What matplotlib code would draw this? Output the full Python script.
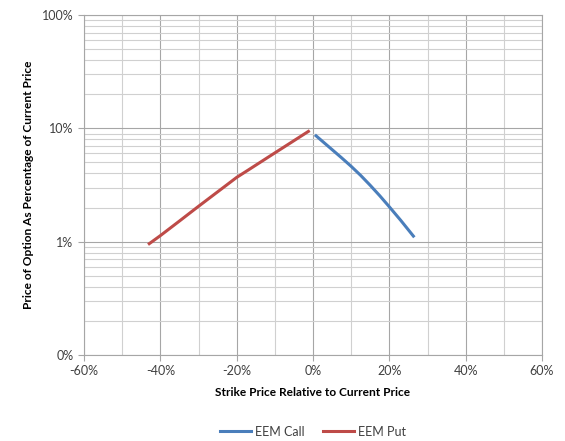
import matplotlib
matplotlib.use("Agg")
import matplotlib.pyplot as plt
from matplotlib.ticker import FixedLocator, FuncFormatter, LogLocator, NullFormatter

# ── Datos ─────────────────────────────────────────────────────────────────────
call_strike = [0.8, 5, 7.5, 10, 12.5, 15, 17.5, 20, 23, 26.3]
call_price  = [8.59, 6.49, 5.49, 4.62, 3.84, 3.14, 2.54, 2.03, 1.54, 1.12]

put_strike = [-42.9, -40, -35, -30, -25, -20, -17, -15, -10, -5, -1.2]
put_price  = [0.96, 1.13, 1.52, 2.05, 2.75, 3.69, 4.28, 4.73, 6.07, 7.78, 9.4]

x_ticks = [-60, -40, -20, 0, 20, 40, 60]
y_ticks = [0.1, 1, 10, 100]
y_labels = ["0%", "1%", "10%", "100%"]

BLUE = "#4a7ebb"
RED  = "#be4b48"
MAJ  = "#a6a6a6"
MIN  = "#d0d0d0"
FG   = "#404040"

plt.rcParams["font.family"] = ["Lato", "DejaVu Sans"]

fig = plt.figure(figsize=(5.65, 4.41), dpi=100)
ax = fig.add_axes([84 / 565, 86 / 441, 458 / 565, 340 / 441])

ax.plot(call_strike, call_price, color=BLUE, lw=2.2, label="EEM Call")
ax.plot(put_strike, put_price, color=RED, lw=2.2, label="EEM Put")

ax.set_yscale("log")
ax.set_ylim(0.1, 100)
ax.set_xlim(-60, 60)

ax.xaxis.set_major_locator(FixedLocator(x_ticks))
ax.xaxis.set_minor_locator(FixedLocator(range(-50, 60, 20)))
ax.xaxis.set_major_formatter(FuncFormatter(lambda v, p: f"{v:.0f}%"))
ax.yaxis.set_major_locator(FixedLocator(y_ticks))
ax.yaxis.set_major_formatter(FuncFormatter(lambda v, p: y_labels[y_ticks.index(v)] if v in y_ticks else ""))
ax.yaxis.set_minor_locator(LogLocator(base=10, subs=range(2, 10)))
ax.yaxis.set_minor_formatter(NullFormatter())

ax.grid(True, which="major", color=MAJ, lw=0.8)
ax.grid(True, which="minor", color=MIN, lw=0.8)
ax.set_axisbelow(True)

ax.tick_params(which="major", direction="out", length=4, color=MAJ,
               labelsize=9, labelcolor=FG)
ax.tick_params(which="minor", length=0)
for s in ax.spines.values():
    s.set_color(MAJ)
    s.set_linewidth(0.8)

ax.set_xlabel("Strike Price Relative to Current Price", fontsize=8.6,
              fontweight="bold", color="#000000", labelpad=7)
ax.set_ylabel("Price of Option As Percentage of Current Price", fontsize=8.6,
              fontweight="bold", color="#000000", labelpad=6)

ax.legend(loc="center", bbox_to_anchor=(0.5, -0.226), ncol=2,
          frameon=False, fontsize=9, handlelength=2.5, columnspacing=1.5,
          handletextpad=0.3, labelcolor=FG)

fig.savefig("out.png", dpi=100)
